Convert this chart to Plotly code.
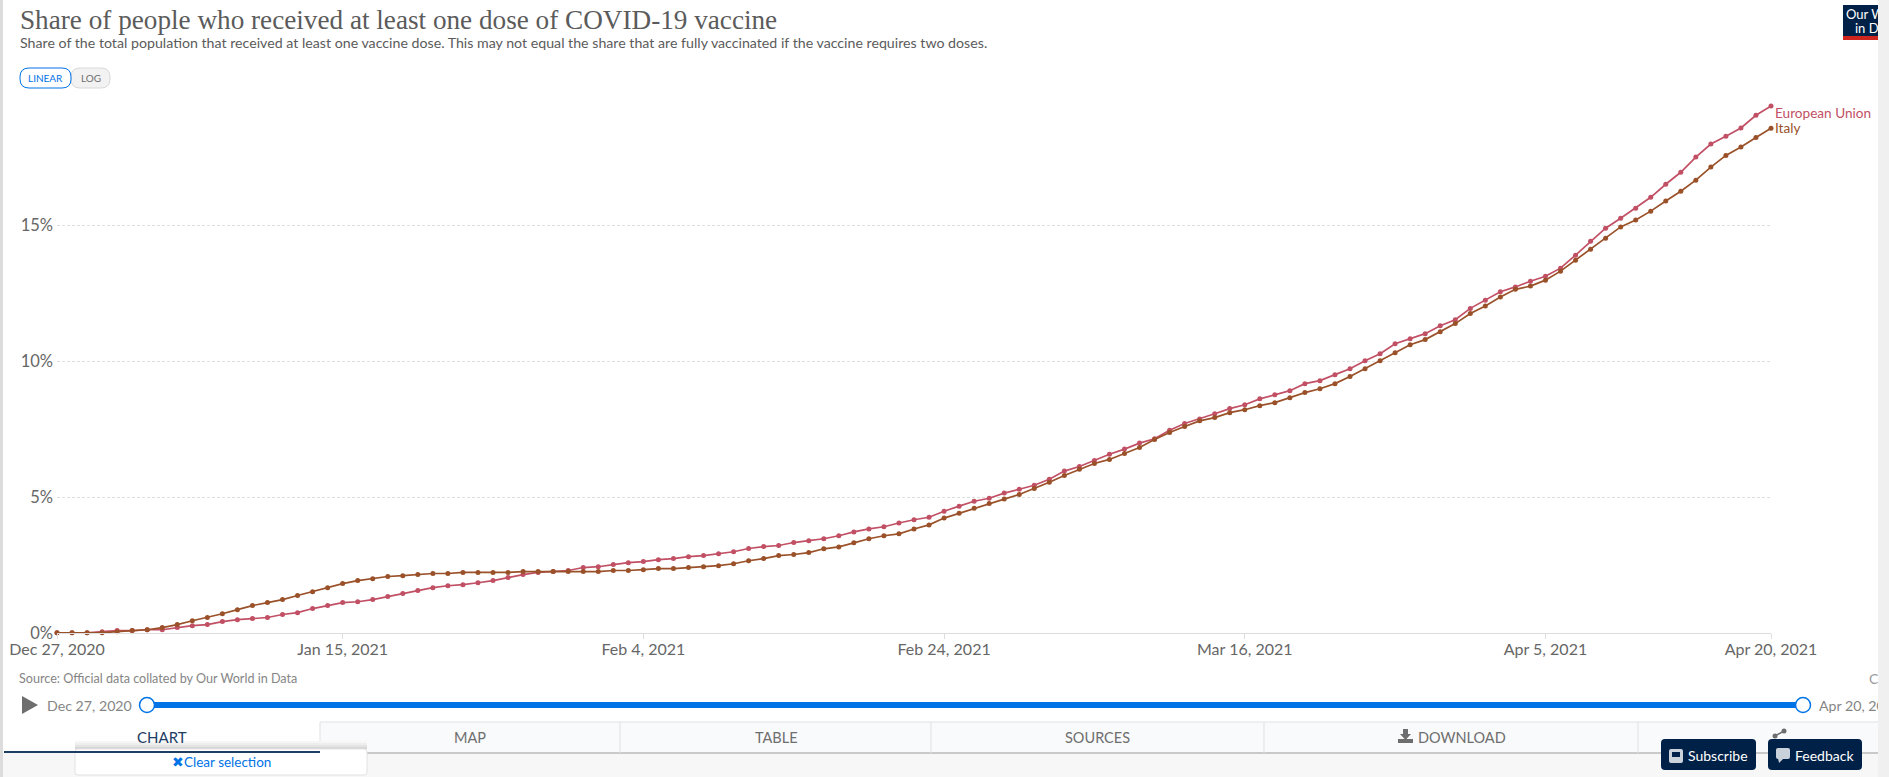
import pandas as pd
import plotly.graph_objects as go

W, H = 1889, 777
# plot area in page pixels
PL, PR, PT, PB = 57, 1771, 106, 633

dates = pd.date_range("2020-12-27", "2021-04-20")

italy = [0.01, 0.01, 0.01, 0.01, 0.05, 0.09, 0.12, 0.20, 0.31, 0.45,
         0.57, 0.71, 0.86, 1.01, 1.12, 1.23, 1.38, 1.52, 1.67, 1.82,
         1.93, 2.00, 2.08, 2.11, 2.15, 2.19, 2.19, 2.23, 2.23, 2.23,
         2.23, 2.26, 2.26,
         2.26, 2.26, 2.26, 2.26, 2.30, 2.30, 2.33, 2.37, 2.37, 2.41, 2.44, 2.48, 2.55,
         2.66, 2.74, 2.85, 2.89, 2.96, 3.10, 3.17, 3.32, 3.47, 3.58,
         3.65, 3.83, 3.98, 4.23, 4.41, 4.59, 4.77, 4.93, 5.10, 5.32,
         5.55, 5.80, 6.03, 6.24, 6.39, 6.61, 6.83, 7.12, 7.38, 7.60,
         7.81, 7.93, 8.11, 8.22, 8.37, 8.48, 8.66, 8.85, 8.99, 9.18,
         9.44, 9.73, 10.02, 10.32, 10.61, 10.80, 11.09, 11.39, 11.76,
         12.04, 12.37, 12.65, 12.77, 12.99, 13.32, 13.72, 14.13, 14.53, 14.95,
         15.20, 15.53, 15.90, 16.26, 16.67, 17.15, 17.58, 17.89, 18.24, 18.58]

eu = [0.01, 0.01, 0.01, 0.05, 0.09, 0.09, 0.12, 0.12, 0.20, 0.27,
      0.31, 0.42, 0.49, 0.53, 0.57, 0.68, 0.75, 0.90, 1.01, 1.12,
      1.15, 1.23, 1.34, 1.45, 1.56, 1.67, 1.74, 1.78, 1.85, 1.93,
      2.04, 2.15, 2.23,
      2.26, 2.30, 2.41, 2.44, 2.52, 2.59, 2.63, 2.70, 2.74, 2.81, 2.85, 2.92, 2.99,
      3.11, 3.18, 3.22, 3.33, 3.40, 3.47, 3.58, 3.72, 3.83, 3.91,
      4.05, 4.17, 4.26, 4.48, 4.67, 4.85, 4.96, 5.15, 5.29, 5.44,
      5.66, 5.96, 6.13, 6.35, 6.58, 6.77, 6.99, 7.15, 7.46, 7.71,
      7.88, 8.07, 8.26, 8.40, 8.62, 8.77, 8.92, 9.18, 9.29, 9.51,
      9.73, 10.02, 10.28, 10.65, 10.83, 11.02, 11.31, 11.53, 11.95,
      12.25, 12.56, 12.74, 12.95, 13.13, 13.43, 13.91, 14.42, 14.90, 15.27,
      15.64, 16.04, 16.52, 16.96, 17.52, 18.00, 18.29, 18.59, 19.06, 19.40]

x_ticks = ["2020-12-27", "2021-01-15", "2021-02-04", "2021-02-24", "2021-03-16", "2021-04-05", "2021-04-20"]
x_labels = ["Dec 27, 2020", "Jan 15, 2021", "Feb 4, 2021", "Feb 24, 2021", "Mar 16, 2021", "Apr 5, 2021", "Apr 20, 2021"]
y_ticks = [0, 5, 10, 15]
y_labels = ["0%", "5%", "10%", "15%"]

EU_COL = "#c15065"
IT_COL = "#9a5129"
GREY = "#6e6e6e"
NAVY = "#002147"
BLUE = "#0073e6"

def fx(px):
    return (px - PL) / (PR - PL)

def fy(py):
    return (PB - py) / (PB - PT)

shapes = []
annotations = []

def rect(x0, y0, x1, y1, fill, line=None):
    shapes.append(dict(type="rect", xref="paper", yref="paper", x0=fx(x0), x1=fx(x1), y0=fy(y0), y1=fy(y1),
                       fillcolor=fill, line=dict(color=line or fill, width=1 if line else 0)))

def rounded(x0, y0, x1, y1, r, fill, line=None):
    p = f"M{fx(x0+r)},{fy(y0)} L{fx(x1-r)},{fy(y0)} Q{fx(x1)},{fy(y0)} {fx(x1)},{fy(y0+r)} "
    p += f"L{fx(x1)},{fy(y1-r)} Q{fx(x1)},{fy(y1)} {fx(x1-r)},{fy(y1)} L{fx(x0+r)},{fy(y1)} "
    p += f"Q{fx(x0)},{fy(y1)} {fx(x0)},{fy(y1-r)} L{fx(x0)},{fy(y0+r)} Q{fx(x0)},{fy(y0)} {fx(x0+r)},{fy(y0)} Z"
    shapes.append(dict(type="path", xref="paper", yref="paper", path=p, fillcolor=fill,
                       line=dict(color=line or fill, width=1 if line else 0)))

def poly(points, fill):
    p = "M" + " L".join(f"{fx(a)},{fy(b)}" for a, b in points) + " Z"
    shapes.append(dict(type="path", xref="paper", yref="paper", path=p, fillcolor=fill, line=dict(width=0)))

def circle(cx, cy, r, fill, line=None, width=0):
    shapes.append(dict(type="circle", xref="paper", yref="paper", x0=fx(cx-r), x1=fx(cx+r), y0=fy(cy-r), y1=fy(cy+r),
                       fillcolor=fill, line=dict(color=line or fill, width=width)))

def label(px, py, text, size=14, color=GREY, anchor="left", **kw):
    annotations.append(dict(xref="paper", yref="paper", x=fx(px), y=fy(py), text=text, showarrow=False,
                            xanchor=anchor, yanchor="middle", borderpad=0, borderwidth=0,
                            font=dict(family="Lato", size=size, color=color), **kw))

# page chrome
rect(0, 0, 3, H, "#dcdcdc")
rect(3, 753, 1878, H, "#f7f7f7")

# tab bar
rect(320, 722, 1878, 753, "#f9fafb")
shapes.append(dict(type="line", xref="paper", yref="paper", x0=fx(320), x1=fx(1878), y0=fy(722), y1=fy(722), line=dict(color="#dfe1e4", width=1)))
shapes.append(dict(type="line", xref="paper", yref="paper", x0=fx(320), x1=fx(1878), y0=fy(753), y1=fy(753), line=dict(color="#c9c9c9", width=2)))
for d in [320, 620, 931, 1264, 1638]:
    shapes.append(dict(type="line", xref="paper", yref="paper", x0=fx(d), x1=fx(d), y0=fy(722), y1=fy(753), line=dict(color="#dfe1e4", width=1)))

# dropdown under the chart tab
for i, c in enumerate(["#f6f6f6", "#eeeeee", "#e4e4e4", "#d6d6d6"]):
    rect(75, 741 + i * 2, 367, 743 + i * 2, c)
rounded(75, 749, 367, 775, 3, "#ffffff", "#e2e2e2")
rect(4, 751, 320, 753, "#1d3d63")

# toggle
rounded(71, 68, 110, 88, 9, "#f2f2f2", "#d9d9d9")
rounded(20, 68, 71, 88, 9, "#ffffff", BLUE)

# timeline
rect(147, 702, 1803, 708, BLUE)
circle(147, 705, 7.5, "#ffffff", BLUE, 1.5)
circle(1803, 705, 7.5, "#ffffff", BLUE, 1.5)
poly([(22, 696), (38, 705), (22, 714)], GREY)

# logo
rect(1843, 5, 1878, 36, NAVY)
rect(1843, 36, 1878, 40, "#ce261e")

# download and share icons
poly([(1403, 729), (1408, 729), (1408, 734), (1411, 734), (1405.5, 740), (1400, 734), (1403, 734)], GREY)
rect(1398, 739, 1413, 743, GREY)
circle(1784, 731, 2.5, GREY)
circle(1775, 736, 2.5, GREY)
shapes.append(dict(type="line", xref="paper", yref="paper", x0=fx(1775), x1=fx(1784), y0=fy(736), y1=fy(731), line=dict(color=GREY, width=1.5)))

# floating buttons
rounded(1661, 739, 1756, 770, 4, NAVY)
rounded(1768, 739, 1862, 770, 4, NAVY)
rounded(1669, 749, 1683, 763, 2, "#c9d1da")
rect(1672, 752, 1680, 757, NAVY)
rounded(1776, 748, 1790, 759, 2, "#c9d1da")
poly([(1778, 758), (1784, 758), (1779, 763)], "#c9d1da")

# scrollbar strip
rect(1878, 0, W, H, "#f0f0f0")

# texts
label(20, 43, "Share of the total population that received at least one vaccine dose. This may not equal the share that are fully vaccinated if the vaccine requires two doses.", 14.2, "#5b5b5b")
label(45.5, 78, "LINEAR", 10, BLUE, "center")
label(90.5, 78, "LOG", 10, GREY, "center")
label(1775, 113, "European Union", 13.6, EU_COL)
label(1775, 128, "Italy", 13.6, IT_COL)
label(19, 678, "Source: Official data collated by Our World in Data", 12.6, "#858585")
label(1869, 678, "C", 14, "#9a9a9a")
label(47, 705, "Dec 27, 2020", 14.2, "#858585")
label(1819, 705, "Apr 20, 20", 14.2, "#858585")
label(162, 737, "CHART", 15, "#1d3d63", "center")
label(470, 737, "MAP", 14.5, GREY, "center")
label(776, 737, "TABLE", 14.5, GREY, "center")
label(1097, 737, "SOURCES", 14.5, GREY, "center")
label(1418, 737, "DOWNLOAD", 14.5, GREY)
label(221, 762, "✖Clear selection", 13.5, BLUE, "center")
label(1688, 755, "Subscribe", 14, "#ffffff")
label(1795, 755, "Feedback", 14, "#ffffff")
label(1846, 14, "Our W", 13, "#ffffff")
label(1855, 28, "in Da", 13, "#ffffff")

# same strip again as a box on top, it cuts off the texts that run into it
annotations.append(dict(xref="paper", yref="paper", x=fx(1878), y=fy(0), text="&nbsp;", showarrow=False, xanchor="left", yanchor="top",
                        width=11, height=H, bgcolor="#f0f0f0", borderpad=0, borderwidth=0))

fig = go.Figure()
fig.add_trace(go.Scatter(x=dates, y=eu, mode="lines+markers", name="European Union", cliponaxis=False,
                         line=dict(color=EU_COL, width=1.7), marker=dict(color=EU_COL, size=5)))
fig.add_trace(go.Scatter(x=dates, y=italy, mode="lines+markers", name="Italy", cliponaxis=False,
                         line=dict(color=IT_COL, width=1.7), marker=dict(color=IT_COL, size=5)))

fig.update_layout(width=W, height=H, template="none", showlegend=False, paper_bgcolor="#ffffff", plot_bgcolor="#ffffff",
                  margin=dict(l=PL, r=W - PR, t=PT, b=H - PB, autoexpand=False),
                  title=dict(text="Share of people who received at least one dose of COVID-19 vaccine", x=20 / W, xanchor="left",
                             y=1 - 19 / H, yanchor="middle", font=dict(family="Liberation Serif", size=27.2, color="#5b5b5b")),
                  font=dict(family="Lato", size=16, color="#666666"), shapes=shapes, annotations=annotations)
fig.update_xaxes(type="date", range=["2020-12-27", "2021-04-20"], tickvals=x_ticks, ticktext=x_labels, ticks="outside", ticklen=5,
                 tickcolor="#dddddd", showline=True, linecolor="#dddddd", showgrid=False, zeroline=False, tickangle=0,
                 ticklabelstandoff=-3)
fig.update_yaxes(range=[0, 19.4], tickvals=y_ticks, ticktext=y_labels, showgrid=True, gridcolor="#dddddd", griddash="3px,2px",
                 ticks="", showline=False, zeroline=False, tickfont=dict(size=16.5), ticklabelstandoff=3)

fig.write_html("out.html", config=dict(displayModeBar=False),
               post_script="document.body.style.margin='0';document.body.style.overflow='hidden';")
